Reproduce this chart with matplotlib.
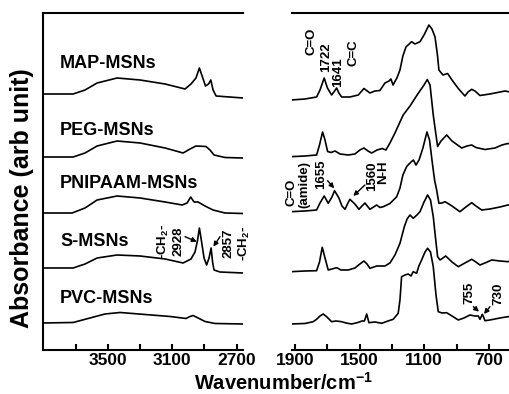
import matplotlib
matplotlib.use('Agg')
import matplotlib.pyplot as plt

plt.rcParams['font.family'] = ['Liberation Sans', 'DejaVu Sans']
plt.rcParams['font.weight'] = 'bold'
plt.rcParams['mathtext.fontset'] = 'custom'
plt.rcParams['mathtext.rm'] = 'Liberation Sans:bold'
plt.rcParams['mathtext.it'] = 'Liberation Sans:bold'
plt.rcParams['mathtext.bf'] = 'Liberation Sans:bold'
plt.rcParams['mathtext.default'] = 'rm'

# ---- high wavenumber region (3900-2660 cm-1) ----
map_hi_w = [3902, 3715, 3641, 3566, 3442, 3299, 3144, 3020, 2983, 2952, 2931, 2914,
            2893, 2874, 2860, 2846, 2827, 2660]
map_hi_a = [2.56, 2.56, 2.60, 2.67, 2.72, 2.70, 2.66, 2.61, 2.66, 2.72, 2.82, 2.74,
            2.64, 2.66, 2.70, 2.60, 2.54, 2.52]

peg_hi_w = [3902, 3715, 3641, 3566, 3442, 3299, 3144, 3032, 2989, 2952, 2890, 2865,
            2840, 2772, 2660]
peg_hi_a = [1.93, 1.93, 1.97, 2.04, 2.09, 2.07, 2.02, 1.97, 2.01, 2.04, 2.035, 2.00,
            1.95, 1.925, 1.92]

pni_hi_w = [3902, 3721, 3641, 3566, 3442, 3299, 3144, 3038, 3007, 2985, 2964, 2939,
            2896, 2846, 2772, 2660]
pni_hi_a = [1.37, 1.37, 1.42, 1.50, 1.54, 1.52, 1.48, 1.45, 1.47, 1.53, 1.48, 1.48,
            1.44, 1.40, 1.37, 1.365]

s_hi_w = [3902, 3715, 3641, 3566, 3442, 3299, 3144, 3032, 2983, 2958, 2942, 2931,
          2917, 2902, 2886, 2871, 2858, 2849, 2840, 2803, 2660]
s_hi_a = [0.82, 0.82, 0.86, 0.92, 0.95, 0.94, 0.91, 0.87, 0.91, 0.98, 1.10, 1.22,
          1.08, 0.92, 0.85, 0.92, 1.02, 0.88, 0.80, 0.78, 0.77]

pvc_hi_w = [3902, 3715, 3610, 3517, 3424, 3268, 3113, 3014, 2989, 2970, 2945, 2896,
            2834, 2660]
pvc_hi_a = [0.27, 0.275, 0.32, 0.36, 0.375, 0.355, 0.335, 0.315, 0.335, 0.345, 0.325,
            0.285, 0.265, 0.26]

# ---- fingerprint region (1920-570 cm-1) ----
map_lo_w = [1925, 1838, 1766, 1745, 1719, 1699, 1673, 1659, 1642, 1628, 1611, 1560,
            1508, 1473, 1436, 1405, 1374, 1343, 1318, 1306, 1293, 1269, 1250, 1232,
            1213, 1178, 1157, 1126, 1101, 1071, 1052, 1033, 1018, 1009, 984, 955,
            928, 889, 848, 829, 806, 786, 755, 693, 631, 600, 569]
map_lo_a = [2.50, 2.51, 2.53, 2.60, 2.72, 2.62, 2.55, 2.58, 2.62, 2.57, 2.53, 2.53,
            2.55, 2.615, 2.57, 2.59, 2.595, 2.67, 2.69, 2.71, 2.65, 2.72, 2.80, 2.94,
            3.03, 3.083, 3.06, 3.083, 3.15, 3.25, 3.21, 3.13, 2.95, 2.80, 2.75, 2.765,
            2.70, 2.615, 2.54, 2.58, 2.607, 2.59, 2.545, 2.56, 2.58, 2.59, 2.58]

peg_lo_w = [1925, 1838, 1766, 1748, 1729, 1714, 1698, 1677, 1652, 1621, 1570, 1529,
            1498, 1473, 1448, 1425, 1392, 1360, 1337, 1312, 1281, 1250, 1230, 1188,
            1137, 1101, 1081, 1064, 1044, 1027, 1017, 996, 961, 928, 868, 835, 806,
            780, 724, 662, 619, 582, 569]
peg_lo_a = [1.933, 1.94, 1.95, 2.05, 2.18, 2.10, 1.985, 1.975, 1.99, 1.96, 1.95, 1.96,
            2.00, 2.02, 1.99, 1.97, 2.00, 2.015, 2.00, 2.07, 2.17, 2.28, 2.35, 2.44,
            2.567, 2.65, 2.705, 2.65, 2.35, 2.15, 2.035, 2.09, 2.15, 2.09, 2.02, 2.04,
            2.05, 2.025, 2.005, 2.02, 2.05, 2.065, 2.06]

pni_lo_w = [1925, 1838, 1766, 1745, 1719, 1694, 1671, 1655, 1628, 1609, 1590, 1575,
            1560, 1529, 1504, 1467, 1436, 1394, 1374, 1353, 1312, 1270, 1250, 1232,
            1209, 1194, 1178, 1167, 1151, 1132, 1108, 1083, 1067, 1052, 1036, 1023,
            1009, 990, 971, 928, 879, 842, 806, 780, 744, 693, 631, 582, 569]
pni_lo_a = [1.383, 1.39, 1.40, 1.47, 1.54, 1.467, 1.53, 1.593, 1.52, 1.44, 1.407, 1.46,
            1.507, 1.46, 1.407, 1.47, 1.407, 1.45, 1.425, 1.433, 1.465, 1.533, 1.62,
            1.75, 1.833, 1.86, 1.885, 1.90, 1.85, 1.90, 2.02, 2.18, 2.10, 1.90, 1.70,
            1.60, 1.467, 1.47, 1.483, 1.44, 1.383, 1.43, 1.473, 1.44, 1.40, 1.41, 1.43,
            1.45, 1.45]

s_lo_w = [1925, 1838, 1766, 1748, 1731, 1714, 1694, 1671, 1642, 1615, 1570, 1529,
          1498, 1473, 1454, 1436, 1394, 1343, 1312, 1281, 1250, 1223, 1206, 1188,
          1168, 1145, 1126, 1101, 1079, 1061, 1044, 1030, 1017, 1002, 967, 928, 889,
          848, 806, 780, 755, 724, 682, 631, 582, 569]
s_lo_a = [0.783, 0.79, 0.793, 0.88, 1.027, 0.92, 0.80, 0.81, 0.823, 0.80, 0.80, 0.82,
          0.86, 0.89, 0.86, 0.817, 0.84, 0.84, 0.87, 0.95, 1.067, 1.233, 1.31, 1.35,
          1.317, 1.35, 1.383, 1.48, 1.55, 1.50, 1.333, 1.12, 0.933, 0.90, 0.94, 0.88,
          0.833, 0.87, 0.907, 0.88, 0.85, 0.87, 0.90, 0.89, 0.883, 0.89]

pvc_lo_w = [1925, 1838, 1787, 1766, 1745, 1725, 1702, 1673, 1646, 1611, 1584, 1549,
            1510, 1485, 1470, 1456, 1442, 1405, 1363, 1324, 1292, 1261, 1250, 1240,
            1219, 1199, 1182, 1168, 1147, 1133, 1116, 1095, 1079, 1061, 1044, 1027,
            1013, 990, 961, 928, 889, 854, 817, 786, 765, 755, 745, 740, 730, 724,
            693, 631, 582, 569]
pvc_lo_a = [0.26, 0.265, 0.283, 0.307, 0.34, 0.36, 0.33, 0.283, 0.29, 0.283, 0.27, 0.26,
            0.275, 0.29, 0.29, 0.36, 0.273, 0.28, 0.267, 0.29, 0.307, 0.367, 0.50,
            0.733, 0.75, 0.76, 0.74, 0.783, 0.767, 0.84, 0.90, 0.98, 1.017, 0.98,
            0.833, 0.55, 0.383, 0.37, 0.373, 0.34, 0.30, 0.32, 0.35, 0.34, 0.34,
            0.307, 0.34, 0.357, 0.32, 0.293, 0.30, 0.32, 0.333, 0.335]

names = ['MAP-MSNs', 'PEG-MSNs', 'PNIPAAM-MSNs', 'S-MSNs', 'PVC-MSNs']
name_y = [2.865, 2.19, 1.665, 1.083, 0.51]

fig = plt.figure(figsize=(5.1, 3.94), dpi=100)
ax1 = fig.add_axes([0.0843, 0.1117, 0.3922, 0.8553])
ax2 = fig.add_axes([0.572, 0.1117, 0.428, 0.8553])

lw = 1.2
for w, a in [(map_hi_w, map_hi_a), (peg_hi_w, peg_hi_a), (pni_hi_w, pni_hi_a),
             (s_hi_w, s_hi_a), (pvc_hi_w, pvc_hi_a)]:
    ax1.plot(w, a, color='k', lw=lw, solid_joinstyle='round')
for w, a in [(map_lo_w, map_lo_a), (peg_lo_w, peg_lo_a), (pni_lo_w, pni_lo_a),
             (s_lo_w, s_lo_a), (pvc_lo_w, pvc_lo_a)]:
    ax2.plot(w, a, color='k', lw=lw, solid_joinstyle='round')

ax1.set_xlim(3902, 2660)
ax2.set_xlim(1920, 569)
for ax in (ax1, ax2):
    ax.set_ylim(0, 3.37)
    ax.set_yticks([])
    ax.spines['right'].set_visible(False)
    for s in ax.spines.values():
        s.set_linewidth(1.5)
    ax.tick_params(axis='x', direction='in', length=4, width=1.5, labelsize=12.5, pad=2)
ax2.spines['left'].set_visible(False)

ax1.set_xticks([3700, 3500, 3300, 3100, 2900, 2700])
ax1.set_xticklabels(['', '3500', '', '3100', '', '2700'])
ax2.set_xticks([1900, 1700, 1500, 1300, 1100, 900, 700])
ax2.set_xticklabels(['1900', '', '1500', '', '1100', '', '700'])

for n, y in zip(names, name_y):
    ax1.text(3796, y, n, fontsize=13, ha='left', va='center')

fs = 9.5
arr = dict(arrowstyle='-|>', lw=1, color='k', mutation_scale=7, shrinkA=0, shrinkB=0)
ax1.text(3110, 1.09, '-CH$_2$-\n2928', rotation=90, fontsize=fs, ha='center', va='center',
         multialignment='center')
ax1.annotate('', xy=(2947, 1.083), xytext=(3020, 1.133), arrowprops=arr)
ax1.text(2694, 1.07, '2857\n-CH$_2$-', rotation=90, fontsize=fs, ha='center', va='center',
         multialignment='center', clip_on=False)
ax1.annotate('', xy=(2844, 1.033), xytext=(2803, 1.133), arrowprops=arr)

ax2.text(1797, 3.083, 'C=O', rotation=90, fontsize=fs, ha='center', va='center')
ax2.text(1708, 2.925, '1722', rotation=90, fontsize=fs, ha='center', va='center')
ax2.text(1632, 2.775, '1641', rotation=90, fontsize=fs, ha='center', va='center')
ax2.text(1539, 2.975, 'C=C', rotation=90, fontsize=fs, ha='center', va='center')

ax2.text(1919, 1.575, 'C=O', rotation=90, fontsize=fs, ha='center', va='center')
ax2.text(1844, 1.65, '(amide)', rotation=90, fontsize=fs, ha='center', va='center')
ax2.text(1736, 1.76, '1655', rotation=90, fontsize=fs, ha='center', va='center')
ax2.annotate('', xy=(1657, 1.617), xytext=(1698, 1.693), arrowprops=arr)
ax2.text(1420, 1.733, '1560', rotation=90, fontsize=fs, ha='center', va='center')
ax2.text(1355, 1.78, 'N-H', rotation=90, fontsize=fs, ha='center', va='center')
ax2.annotate('', xy=(1539, 1.54), xytext=(1467, 1.65), arrowprops=arr)

ax2.text(823, 0.575, '755', rotation=90, fontsize=fs, ha='center', va='center')
ax2.text(642, 0.56, '730', rotation=90, fontsize=fs, ha='center', va='center')
ax2.annotate('', xy=(761, 0.383), xytext=(796, 0.433), arrowprops=arr)
ax2.annotate('', xy=(730, 0.36), xytext=(693, 0.433), arrowprops=arr)

fig.text(22.5 / 510, 0.497, 'Absorbance (arb unit)', rotation=90, fontsize=18,
         ha='center', va='center')
fig.text(283 / 510, 0.028, 'Wavenumber/cm$^{-1}$', fontsize=14.5, ha='center', va='center')

fig.savefig('out.png', dpi=100)
